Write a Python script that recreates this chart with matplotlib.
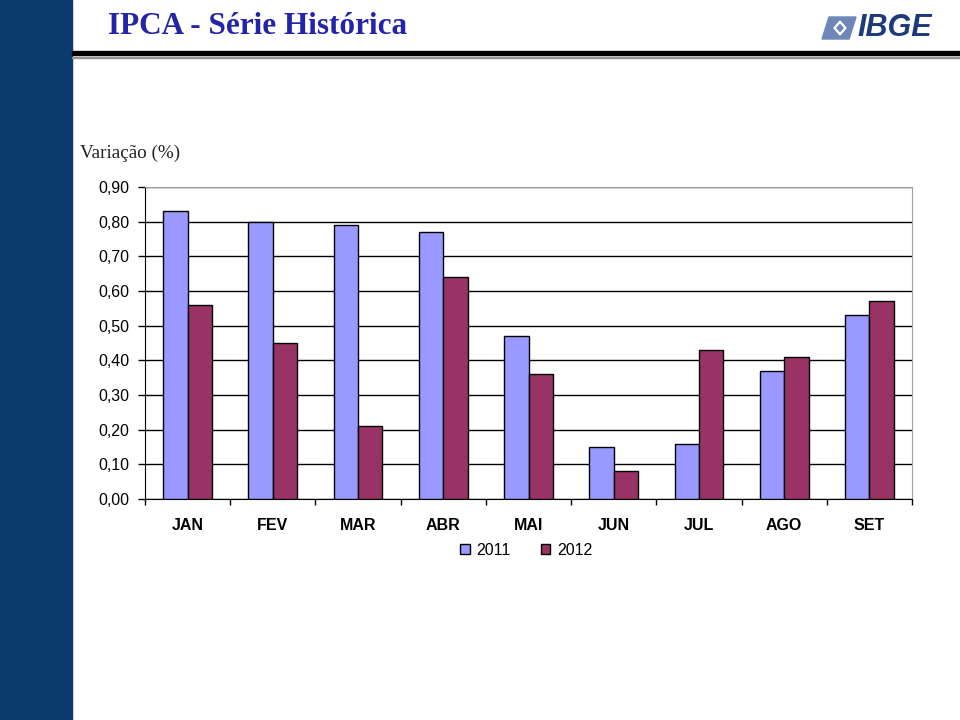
import matplotlib
matplotlib.use("Agg")
import matplotlib.pyplot as plt
import numpy as np
from matplotlib.patches import Rectangle, Polygon

meses = ["JAN", "FEV", "MAR", "ABR", "MAI", "JUN", "JUL", "AGO", "SET"]
ipca_2011 = [0.83, 0.80, 0.79, 0.77, 0.47, 0.15, 0.16, 0.37, 0.53]
ipca_2012 = [0.56, 0.45, 0.21, 0.64, 0.36, 0.08, 0.43, 0.41, 0.57]
y_ticks = [0.0, 0.1, 0.2, 0.3, 0.4, 0.5, 0.6, 0.7, 0.8, 0.9]

plt.rcParams['font.family'] = ['Liberation Sans', 'DejaVu Sans']

fig = plt.figure(figsize=(9.6, 7.2), dpi=100)

# faixa azul a esquerda
fig.patches.append(Rectangle((0, 0), 72 / 960, 1, transform=fig.transFigure,
                             color="#0b3a6f", zorder=0))
# linhas do cabecalho
fig.patches.append(Rectangle((72 / 960, 1 - 55 / 720), 1 - 72 / 960, 4.5 / 720,
                             transform=fig.transFigure, color="black"))
fig.patches.append(Rectangle((72 / 960, 1 - 58 / 720), 1 - 72 / 960, 1.5 / 720,
                             transform=fig.transFigure, color="#909090"))

fig.text(108 / 960, 1 - 27 / 720, "IPCA - Série Histórica", family="Liberation Serif",
         fontsize=22.5, fontweight="bold", color="#2424a8", va="center", ha="left")

# logo IBGE (simplificado)
fig.patches.append(Polygon([(822 / 960, 1 - 39 / 720), (829 / 960, 1 - 17 / 720),
                            (856 / 960, 1 - 17 / 720), (849 / 960, 1 - 39 / 720)],
                           closed=True, transform=fig.transFigure, color="#6f86b8"))
fig.patches.append(Polygon([(834 / 960, 1 - 28 / 720), (840 / 960, 1 - 21 / 720),
                            (846 / 960, 1 - 28 / 720), (840 / 960, 1 - 35 / 720)],
                           closed=True, transform=fig.transFigure, color="white"))
fig.patches.append(Polygon([(837 / 960, 1 - 28 / 720), (840 / 960, 1 - 24.5 / 720),
                            (843 / 960, 1 - 28 / 720), (840 / 960, 1 - 31.5 / 720)],
                           closed=True, transform=fig.transFigure, color="#6f86b8"))
fig.text(857 / 960, 1 - 28 / 720, "IBGE", fontsize=22, fontweight="bold", style="italic",
         color="#1f3a7a", va="center", ha="left")

fig.text(80 / 960, 1 - 153 / 720, "Variação (%)", family="Liberation Serif",
         fontsize=13.8, color="#202020", va="center", ha="left")

ax = fig.add_axes([145 / 960, 1 - 499 / 720, 767 / 960, 312 / 720])

x = np.arange(len(meses))
w = 1 / 3.5
ax.bar(x - w / 2, ipca_2011, w, color="#9999ff", edgecolor="black", linewidth=1,
       label="2011", zorder=3)
ax.bar(x + w / 2, ipca_2012, w, color="#993366", edgecolor="black", linewidth=1,
       label="2012", zorder=3)

ax.set_xlim(-0.5, len(meses) - 0.5)
ax.set_ylim(0, 0.9)
ax.set_yticks(y_ticks)
ax.set_yticklabels([f"{v:.2f}".replace(".", ",") for v in y_ticks], fontsize=11.5)
ax.yaxis.grid(True, color="black", linewidth=1)
ax.set_axisbelow(True)

ax.set_xticks(np.arange(len(meses) + 1) - 0.5)
ax.set_xticklabels([])
ax.set_xticks(x, minor=True)
ax.set_xticklabels(meses, minor=True, fontsize=11.5, fontweight="bold")
ax.tick_params(axis="x", which="minor", length=0, pad=14)
ax.tick_params(axis="x", which="major", length=4, direction="out", width=1)
ax.tick_params(axis="y", length=5, direction="out", width=1, pad=6)

for s in ["top", "right"]:
    ax.spines[s].set_color("#a0a0a0")
ax.spines["left"].set_color("black")
ax.spines["bottom"].set_color("black")

ax.legend(loc="upper center", bbox_to_anchor=(0.497, -0.095), ncol=2, frameon=False,
          fontsize=11.5, handlelength=0.6, handleheight=0.6, columnspacing=1.9,
          handletextpad=0.4)

fig.savefig("out.png", dpi=100)
